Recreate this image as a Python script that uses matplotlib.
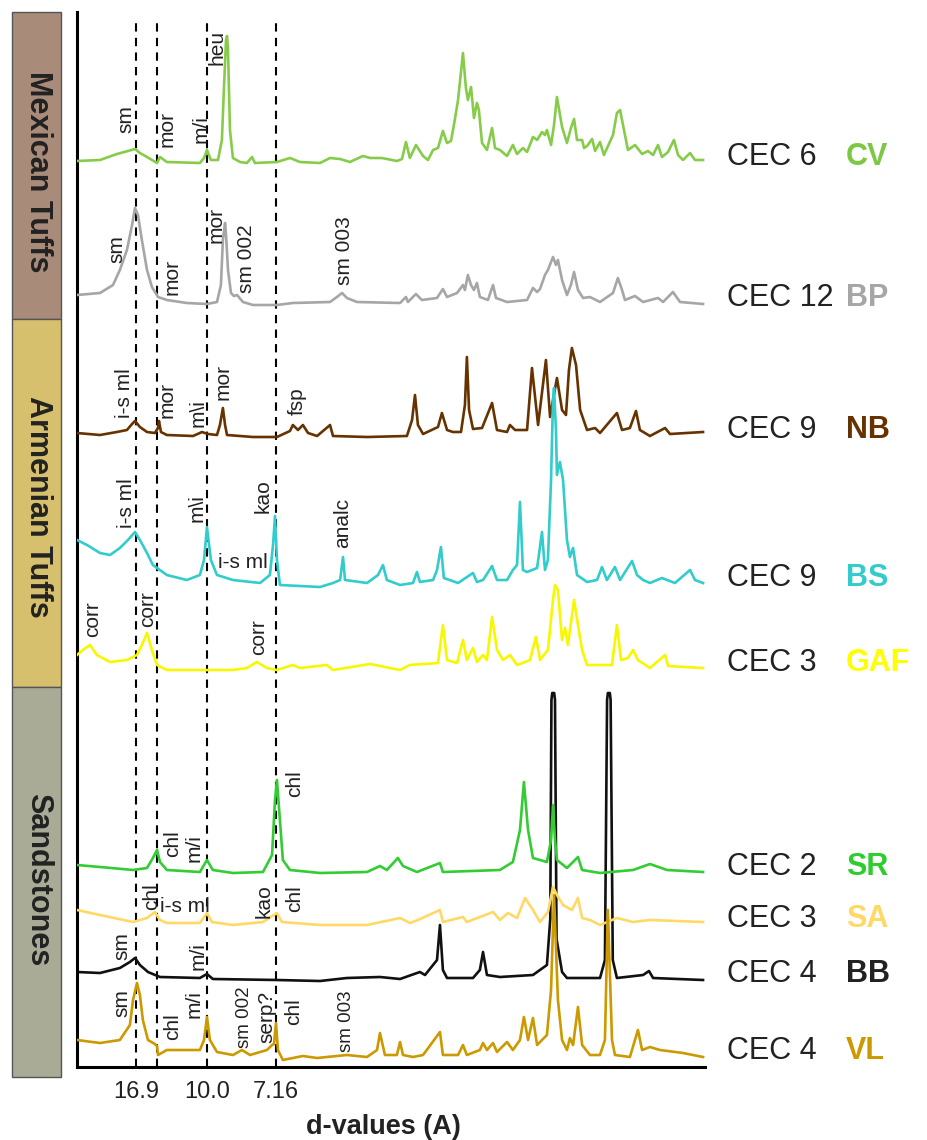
import numpy as np
import matplotlib.pyplot as plt
from matplotlib.patches import Rectangle

plt.rcParams['font.family'] = ['Liberation Sans', 'DejaVu Sans']

WAVELENGTH = 1.5406  # Cu K-alpha, A


def two_theta(d):
    return 2 * np.degrees(np.arcsin(WAVELENGTH / (2 * np.asarray(d))))


# reference d-spacings (A): dashed lines, three of them labelled on the axis
ref_d = [16.9, 14.0, 10.0, 7.16]
tick_d = [16.9, 10.0, 7.16]
tick_labels = ['16.9', '10.0', '7.16']

# patterns: (2theta, intensity above the trace baseline)
cv_pattern = [(2.23, 1), (3.40, 2), (4.26, 8), (4.82, 11), (5.18, 13), (5.43, 9), (5.79, 5), (6.30, -1),
              (6.45, 5), (6.80, 0), (8.48, -1), (8.69, 4), (8.84, 12), (9.04, 2), (9.40, 2), (9.60, 22),
              (9.70, 72), (9.81, 122), (9.86, 126), (9.91, 112), (10.01, 32), (10.16, 4), (10.52, 0),
              (10.87, -1), (11.13, 5), (11.28, -1), (12.40, 0), (13.06, 4), (13.57, 0), (14.59, -1),
              (15.10, 4), (15.61, 3), (16.11, 0), (16.77, 6), (17.14, 4), (17.74, 4), (18.50, 1),
              (18.76, 3), (18.96, 20), (19.16, 4), (19.47, 17), (19.83, 6), (20.08, 2), (20.34, 12),
              (20.59, 14), (20.84, 31), (21.05, 19), (21.25, 21), (21.40, 37), (21.61, 62), (21.86, 109),
              (22.01, 74), (22.11, 62), (22.27, 75), (22.42, 44), (22.57, 59), (22.67, 52), (22.83, 19),
              (23.08, 12), (23.34, 34), (23.49, 14), (23.74, 12), (24.10, 6), (24.40, 17), (24.61, 8),
              (24.91, 14), (25.12, 10), (25.42, 25), (25.63, 22), (25.88, 30), (26.03, 27), (26.13, 32),
              (26.34, 17), (26.49, 37), (26.64, 65), (26.90, 35), (27.15, 19), (27.35, 34), (27.51, 43),
              (27.66, 22), (27.92, 22), (28.02, 14), (28.17, 16), (28.43, 23), (28.58, 11), (28.83, 20),
              (29.03, 7), (29.49, 27), (29.69, 49), (29.85, 52), (30.05, 32), (30.25, 12), (30.61, 17),
              (30.97, 8), (31.27, 11), (31.53, 7), (31.78, 17), (31.98, 5), (32.29, 10), (32.59, 22),
              (32.80, 7), (33.05, 2), (33.41, 9), (33.66, 2), (34.07, 2)]

bp_pattern = [(2.23, 8), (3.40, 10), (4.06, 18), (4.41, 33), (4.77, 53), (5.03, 78), (5.18, 95), (5.33, 88),
              (5.53, 63), (5.79, 33), (6.04, 16), (6.35, 6), (6.80, 3), (7.82, 0), (8.84, -1), (9.35, 1),
              (9.55, 18), (9.65, 63), (9.76, 80), (9.81, 68), (9.91, 33), (10.06, 10), (10.21, 7),
              (10.37, 8), (10.67, 1), (11.18, -2), (12.40, -2), (13.21, 0), (15.10, 1), (15.45, 6),
              (15.71, 10), (15.96, 5), (16.47, 1), (18.66, 0), (18.96, 6), (19.06, 1), (19.47, 9),
              (19.77, 3), (20.54, 5), (20.84, 14), (21.05, 6), (21.56, 10), (21.86, 18), (21.96, 13),
              (22.11, 28), (22.27, 18), (22.42, 13), (22.57, 20), (22.72, 6), (23.13, 3), (23.39, 18),
              (23.54, 5), (24.10, 1), (25.12, 3), (25.42, 15), (25.63, 11), (25.78, 14), (26.03, 28),
              (26.18, 33), (26.44, 46), (26.59, 38), (26.69, 43), (26.90, 23), (27.15, 8), (27.35, 18),
              (27.51, 31), (27.71, 13), (27.97, 5), (28.32, 6), (28.83, 1), (29.49, 10), (29.74, 25),
              (29.95, 13), (30.10, 3), (30.61, 7), (31.02, 1), (31.78, 5), (32.04, 1), (32.54, 11),
              (32.90, 1), (34.07, -1)]

nb_pattern = [(2.23, 2), (3.40, 0), (4.26, 3), (4.77, 5), (5.03, 11), (5.18, 14), (5.43, 8), (5.79, 3),
              (6.19, 2), (6.35, 7), (6.40, 14), (6.50, 3), (6.80, 0), (8.13, -1), (8.48, 2), (8.58, 3),
              (8.89, 1), (9.35, 0), (9.50, 10), (9.65, 27), (9.76, 10), (9.86, 0), (11.18, -2),
              (12.40, -2), (13.06, 4), (13.21, 10), (13.47, 5), (13.72, 10), (13.98, 2), (14.44, -1),
              (15.10, 10), (15.25, -1), (16.98, -2), (19.01, -1), (19.27, 15), (19.42, 40), (19.57, 10),
              (19.83, 1), (20.59, 8), (20.79, 22), (21.05, 5), (21.35, 3), (21.76, 3), (21.96, 30),
              (22.06, 78), (22.17, 25), (22.37, 6), (22.83, 7), (23.34, 32), (23.59, 5), (24.10, 3),
              (24.25, 10), (24.51, 5), (25.12, 5), (25.37, 67), (25.68, 10), (26.08, 75), (26.29, 18),
              (26.44, 35), (26.64, 57), (26.90, 25), (27.10, 20), (27.25, 65), (27.40, 87), (27.61, 70),
              (27.82, 25), (28.17, 5), (28.58, 7), (28.83, 2), (29.69, 22), (29.95, 5), (30.35, 7),
              (30.66, 24), (30.86, 5), (31.37, -1), (32.14, 7), (32.39, 1), (34.07, 3)]

bs_pattern = [(2.23, 43), (2.74, 38), (3.40, 30), (3.91, 28), (4.41, 35), (4.82, 43), (5.18, 51), (5.43, 43),
              (5.79, 30), (6.09, 18), (6.80, 8), (7.82, 3), (8.48, 8), (8.69, 23), (8.84, 56), (9.04, 23),
              (9.35, 8), (10.16, 3), (11.54, 0), (12.04, 8), (12.20, 38), (12.30, 67), (12.40, 23),
              (12.55, -2), (14.59, -4), (15.25, 0), (15.61, 3), (15.76, 26), (15.86, 3), (16.98, 0),
              (17.54, 8), (17.79, 18), (17.99, 3), (18.66, -2), (19.32, 0), (19.52, 11), (19.67, 1),
              (20.34, 3), (20.54, 13), (20.74, 36), (20.89, 5), (21.61, 0), (22.37, 10), (22.57, 1),
              (22.88, 3), (23.34, 17), (23.59, 3), (24.10, 3), (24.40, 13), (24.61, 18), (24.76, 81),
              (24.91, 13), (25.12, 11), (25.63, 15), (25.88, 51), (26.03, 13), (26.18, 23), (26.34, 103),
              (26.44, 183), (26.49, 195), (26.59, 153), (26.64, 108), (26.79, 121), (26.95, 103),
              (27.15, 43), (27.30, 26), (27.46, 35), (27.66, 8), (28.17, 1), (28.68, 3), (28.93, 16),
              (29.18, 3), (29.59, 16), (29.85, 3), (30.46, 22), (30.71, 8), (31.02, 3), (31.37, 0),
              (31.98, 5), (32.64, 0), (33.41, 13), (33.66, 3), (34.07, 0)]

gaf_pattern = [(2.23, 13), (2.53, 18), (2.89, 23), (3.24, 13), (3.91, 6), (4.77, 8), (5.28, 13), (5.53, 23),
               (5.79, 35), (6.04, 18), (6.30, 3), (6.80, -2), (10.16, -2), (10.87, 0), (11.38, 6),
               (11.89, 0), (12.40, -2), (13.21, 3), (13.57, 0), (14.94, 3), (15.25, -2), (17.14, 4),
               (18.66, -2), (19.16, 3), (20.59, 5), (20.84, 43), (21.05, 8), (21.56, 5), (21.86, 28),
               (22.06, 8), (22.37, 20), (22.57, 6), (22.88, 13), (23.08, 8), (23.34, 51), (23.59, 18),
               (23.90, 8), (24.25, 13), (24.61, 3), (24.91, 5), (25.27, 8), (25.57, 31), (25.78, 8),
               (26.18, 18), (26.44, 68), (26.54, 83), (26.69, 78), (26.90, 28), (27.05, 40), (27.20, 23),
               (27.51, 68), (27.71, 43), (27.92, 18), (28.17, 3), (29.44, 3), (29.69, 43), (29.90, 8),
               (30.25, 10), (30.51, 18), (30.76, 8), (31.37, 0), (32.14, 13), (32.29, 2), (34.07, 0)]

sr_pattern = [(2.23, 7), (3.40, 5), (5.08, 2), (5.79, 4), (6.09, 14), (6.30, 22), (6.45, 10), (6.80, 2),
              (8.48, 0), (8.84, 12), (9.14, 2), (10.16, -1), (11.69, 0), (12.15, 17), (12.30, 72),
              (12.40, 92), (12.55, 52), (12.70, 12), (13.06, 2), (14.59, -1), (16.98, 0), (17.64, 6),
              (17.99, 2), (18.55, 14), (18.81, 6), (19.52, 0), (20.69, 9), (20.84, 0), (23.74, 2),
              (24.40, 10), (24.76, 42), (24.96, 90), (25.17, 42), (25.42, 14), (26.13, 10), (26.34, 32),
              (26.44, 67), (26.54, 32), (26.64, 12), (27.15, 4), (27.71, 15), (27.92, 2), (28.83, -1),
              (30.51, 2), (31.37, 8), (32.24, 2), (34.07, 0)]

sa_pattern = [(2.23, 14), (3.40, 9), (5.08, 2), (5.79, 6), (6.19, 12), (6.45, 4), (6.80, 1), (8.48, 1),
              (8.84, 11), (9.09, 2), (10.16, -1), (11.69, 2), (12.40, 11), (12.65, 2), (14.59, -1),
              (16.98, -1), (18.66, 6), (19.16, 1), (19.57, 4), (20.69, 14), (20.84, 2), (21.86, 7),
              (22.06, 2), (23.39, 12), (23.74, 4), (24.15, 11), (24.61, 6), (25.02, 26), (25.42, 14),
              (25.78, 2), (26.18, 12), (26.44, 37), (26.64, 29), (26.95, 19), (27.40, 14), (27.71, 26),
              (27.92, 6), (28.32, 4), (28.83, -1), (29.69, 6), (30.51, 2), (31.37, 4), (34.07, 2)]

bb_pattern = [(2.23, 7), (3.40, 6), (4.41, 11), (4.92, 17), (5.18, 21), (5.43, 14), (5.84, 7), (6.45, 2),
              (8.48, 1), (8.84, 5), (9.14, 0), (12.40, -1), (14.59, -2), (15.96, 1), (17.64, 2), (18.66, 0),
              (19.67, 7), (19.93, 4), (20.54, 19), (20.69, 54), (20.84, 9), (21.05, 1), (22.37, 1),
              (22.72, 9), (22.88, 27), (23.08, 4), (23.74, 2), (25.42, 4), (26.13, 14), (26.30, 60),
              (26.36, 279), (26.40, 286), (26.50, 286), (26.54, 279), (26.62, 40), (26.90, 7), (27.15, 1),
              (28.83, 1), (29.08, 19), (29.19, 279), (29.23, 286), (29.33, 286), (29.37, 279), (29.48, 19),
              (29.69, 1), (31.02, 4), (31.32, 8), (31.53, 1), (34.07, -1)]

vl_pattern = [(2.23, 16), (3.40, 13), (4.41, 16), (4.92, 31), (5.08, 56), (5.28, 73), (5.43, 61), (5.58, 36),
              (5.84, 16), (6.19, 12), (6.30, 10), (6.35, 1), (6.80, 6), (8.48, 6), (8.69, 16), (8.84, 39),
              (8.99, 16), (9.35, 4), (10.16, 1), (10.62, 6), (11.03, 1), (11.89, 6), (12.15, 11),
              (12.25, 12), (12.35, 33), (12.45, 6), (12.70, -4), (13.72, 0), (14.44, -2), (15.96, 1),
              (16.98, -1), (17.49, 6), (17.64, 23), (17.89, 1), (18.50, 1), (18.66, 14), (18.81, 1),
              (19.32, -1), (19.83, 1), (20.69, 24), (20.84, 1), (21.61, 1), (21.86, 11), (22.06, 1),
              (22.72, 6), (22.88, 13), (23.08, 6), (23.39, 13), (23.59, 4), (24.10, 14), (24.40, 6),
              (24.76, 16), (24.96, 39), (25.17, 16), (25.42, 38), (25.63, 11), (26.13, 21), (26.34, 66),
              (26.49, 161), (26.69, 56), (26.90, 16), (27.15, 6), (27.30, 18), (27.46, 11), (27.71, 49),
              (27.92, 11), (28.32, 1), (28.83, 1), (29.08, 16), (29.23, 146), (29.44, 16), (29.59, 1),
              (30.35, -1), (30.76, 26), (30.97, 6), (31.37, 9), (31.88, 6), (33.05, 3), (34.07, -1)]

samples = ['CV', 'BP', 'NB', 'BS', 'GAF', 'SR', 'SA', 'BB', 'VL']
cec = [6, 12, 9, 9, 3, 2, 3, 4, 4]
patterns = [cv_pattern, bp_pattern, nb_pattern, bs_pattern, gaf_pattern,
            sr_pattern, sa_pattern, bb_pattern, vl_pattern]

# mineral labels: (text, 2theta, bottom of text)
peak_labels = [
    ('sm', 4.72, 934), ('mor', 6.80, 920), ('m/i', 8.53, 924), ('heu', 9.35, 1002),
    ('sm', 4.26, 804), ('mor', 7.06, 772), ('mor', 9.30, 824), ('sm 002', 10.87, 774), ('sm 003', 15.81, 782),
    ('i-s ml', 4.67, 649), ('mor', 6.80, 649), ('m\\i', 8.38, 640), ('mor', 9.65, 667), ('fsp', 13.42, 652),
    ('i-s ml', 4.77, 539), ('m\\i', 8.33, 545), ('kao', 11.69, 554), ('analc', 15.76, 519),
    ('corr', 3.04, 430), ('corr', 5.84, 440), ('corr', 11.48, 412),
    ('chl', 13.31, 270), ('chl', 7.11, 210), ('m/i', 8.18, 205),
    ('chl', 6.04, 157), ('kao', 11.74, 149), ('chl', 13.31, 155),
    ('sm', 4.52, 107), ('m/i', 8.38, 97),
    ('sm', 4.52, 50), ('chl', 7.11, 27), ('m/i', 8.18, 49), ('serp?', 11.89, 24), ('chl', 13.26, 42),
]
small_labels = [('sm 002', 10.77, 19), ('sm 003', 15.96, 15)]
flat_labels = [('i-s ml', 9.40, 504), ('i-s ml', 6.45, 160)]

groups = ['Mexican Tuffs', 'Armenian Tuffs', 'Sandstones']

# layout
offsets = [905, 764, 632, 484, 399, 195, 143, 88, 11]
colors = ['#86cc4a', '#a6a6a6', '#663300', '#33cccc', '#f7f700',
          '#33cc33', '#ffd966', '#111111', '#cc9900']
code_colors = ['#7dc843', '#a6a6a6', '#663300', '#33cccc', '#ffff00',
               '#2ecc2e', '#ffd966', '#222222', '#cc9900']
group_spans = [(12, 319), (319, 687), (687, 1077)]
group_text_y = [172, 507, 880]
group_colors = ['#a98b7a', '#d6c06e', '#a9ab97']
W, H = 928, 1140
dark = '#222222'

fig = plt.figure(figsize=(W / 100, H / 100), dpi=100)
ax = fig.add_axes([77 / W, (H - 1067) / H, (705 - 77) / W, (1067 - 12) / H])
xmax = 34.17
ax.set_xlim(2.23, xmax)
ax.set_ylim(0, 1055)

for d in ref_d:
    ax.axvline(two_theta(d), ymin=0, ymax=1044 / 1055, color='black', lw=1.5,
               linestyle=(0, (4, 3)), zorder=1)

for i, (pat, off, col) in enumerate(zip(patterns, offsets, colors)):
    tt, counts = np.array(pat, dtype=float).T
    z = 2 if samples[i] == 'BB' else 3
    ax.plot(tt, counts + off, color=col, lw=1.9, solid_joinstyle='round', zorder=z)
    ax.annotate(f'CEC {cec[i]}', xy=(xmax, off), xytext=(22, 5), textcoords='offset pixels',
                ha='left', va='center', fontsize=22, color=dark, annotation_clip=False)
    ax.annotate(samples[i], xy=(xmax, off), xytext=(141, 5), textcoords='offset pixels',
                ha='left', va='center', fontsize=22, fontweight='bold', color=code_colors[i],
                annotation_clip=False)

for s, x, y in peak_labels:
    ax.text(x, y, s, rotation=90, ha='center', va='bottom', fontsize=15, color=dark, zorder=4)
for s, x, y in small_labels:
    ax.text(x, y, s, rotation=90, ha='center', va='bottom', fontsize=13.5, color=dark, zorder=4)
for s, x, y in flat_labels:
    ax.text(x, y, s, ha='left', va='center', fontsize=15, color=dark, zorder=4)

ax.set_xticks(two_theta(tick_d))
ax.set_xticklabels(tick_labels)
ax.tick_params(axis='x', length=0, pad=10, labelsize=17, labelcolor=dark)
ax.set_yticks([])
ax.spines[['top', 'right']].set_visible(False)
for side in ['left', 'bottom']:
    ax.spines[side].set_linewidth(2.2)
    ax.spines[side].set_color('black')

fig.text(383 / W, 1 - 1127 / H, 'd-values (A)', ha='center', va='center',
         fontsize=19.5, fontweight='bold', color=dark)

# rock-type bars on the left
for name, (top, bottom), ty, gc in zip(groups, group_spans, group_text_y, group_colors):
    fig.add_artist(Rectangle((12 / W, 1 - bottom / H), 49 / W, (bottom - top) / H,
                             transform=fig.transFigure, facecolor=gc, edgecolor='#555555', lw=1))
    fig.text(38 / W, 1 - ty / H, name, rotation=-90, ha='center', va='center',
             fontsize=22, fontweight='bold', color=dark)

fig.savefig('out.png', dpi=100)
